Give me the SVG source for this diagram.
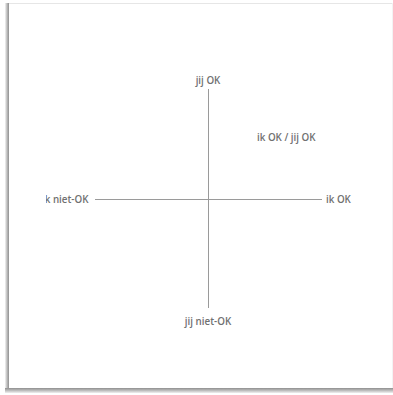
<svg xmlns="http://www.w3.org/2000/svg" width="393" height="395" viewBox="0 0 393 395">
<style>
.lbl{font-family:"Open Sans","Liberation Sans",sans-serif;font-size:9.8px;fill:#707070;font-weight:600}
.axis{stroke:#9a9a9a;stroke-width:1;fill:none}
</style>
<defs>
<linearGradient id="ls" x1="0" y1="0" x2="1" y2="0">
<stop offset="0" stop-color="#f4f4f4"/><stop offset="0.5" stop-color="#bdbdbd"/><stop offset="1" stop-color="#8f8f8f"/>
</linearGradient>
<linearGradient id="bs" x1="0" y1="0" x2="0" y2="1">
<stop offset="0" stop-color="#8f8f8f"/><stop offset="0.5" stop-color="#bdbdbd"/><stop offset="1" stop-color="#f0f0f0"/>
</linearGradient>
<clipPath id="clipL"><rect x="46" y="185" width="60" height="25"/></clipPath>
</defs>
<rect x="0" y="0" width="393" height="395" fill="#ffffff"/>
<g id="page">
<line x1="6" y1="3.5" x2="393" y2="3.5" stroke="#e6e6e6" stroke-width="1"/>
<line x1="392.5" y1="3" x2="392.5" y2="390" stroke="#f3f3f3" stroke-width="1"/>
<rect x="5" y="3" width="4" height="389" fill="url(#ls)"/>
<rect x="5" y="388" width="388" height="5" fill="url(#bs)"/>
<rect x="9" y="4" width="383" height="384" fill="#ffffff"/>
</g>
<g id="connectors">
<line class="axis" x1="208.5" y1="89" x2="208.5" y2="308"/>
<line class="axis" x1="95" y1="199.5" x2="322" y2="199.5"/>
</g>
<g id="top"><text class="lbl" x="208" y="84" text-anchor="middle">jij OK</text></g>
<g id="bottom"><text class="lbl" x="208" y="325" text-anchor="middle">jij niet-OK</text></g>
<g id="right"><text class="lbl" x="326" y="202.5">ik OK</text></g>
<g id="left"><text class="lbl" x="42" y="202.5" clip-path="url(#clipL)">ik niet-OK</text></g>
<g id="quadrant"><text class="lbl" x="257" y="141">ik OK / jij OK</text></g>
</svg>
